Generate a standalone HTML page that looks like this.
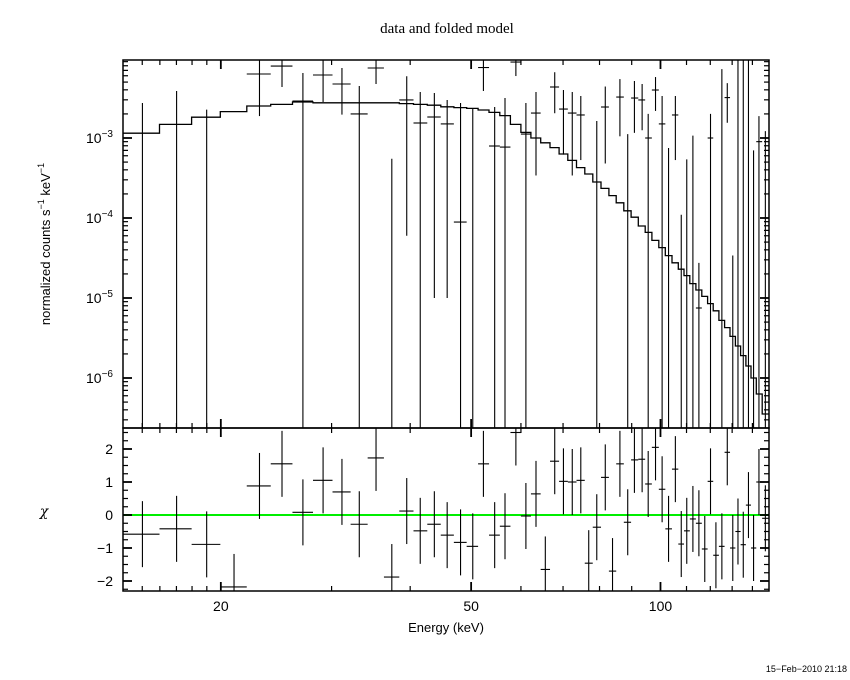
<!DOCTYPE html>
<html><head><meta charset="utf-8">
<style>
html,body{margin:0;padding:0;background:#fff;}
svg{display:block;}
</style></head>
<body>
<svg id="chart" width="850" height="680" xmlns="http://www.w3.org/2000/svg">
<defs>
<clipPath id="clipTop"><rect x="123" y="60" width="646" height="368"/></clipPath>
<clipPath id="clipBot"><rect x="123" y="428" width="646" height="163"/></clipPath>
</defs>
<rect x="0" y="0" width="850" height="680" fill="#fff"/>
<text x="447" y="33" text-anchor="middle" font-family="Liberation Serif, serif" font-size="15">data and folded model</text>
<text transform="translate(50,244) rotate(-90)" text-anchor="middle" font-family="Liberation Sans, sans-serif" font-size="13">normalized counts s<tspan dy="-6" font-size="9">−1</tspan><tspan dy="6"> keV</tspan><tspan dy="-6" font-size="9">−1</tspan></text>
<text x="44" y="516" text-anchor="middle" font-family="DejaVu Serif, serif" font-size="14" font-style="italic">χ</text>
<text x="446" y="632" text-anchor="middle" font-family="Liberation Sans, sans-serif" font-size="13">Energy (keV)</text>
<text x="847" y="672" text-anchor="end" font-family="Liberation Sans, sans-serif" font-size="9">15−Feb−2010 21:18</text>
<g id="gTop" clip-path="url(#clipTop)"></g>
<g id="gBot" clip-path="url(#clipBot)"></g>
<g id="gAxes"></g>
</svg>
<script>
// bin centre energies (keV)
const energies = [15.01,17.01,18.99,20.99,23.04,25.02,27.01,29.08,31.16,33.2,35.3,37.4,39.5,41.5,43.7,45.8,48.1,50.3,52.3,54.5,56.6,58.9,61.1,63.4,65.6,67.9,70.1,72.4,74.7,76.9,79.2,81.7,83.9,86.2,88.7,90.9,93.5,95.6,98.2,100.6,103.0,105.6,107.9,110.1,112.6,115.1,117.6,120.1,122.5,125.2,127.7,130.3,132.8,135.4,138.0,140.6,143.4,146.8];
// folded model, log10 (counts/s/keV)
const modelLog = [-2.94,-2.83,-2.74,-2.67,-2.60,-2.58,-2.55,-2.56,-2.56,-2.56,-2.56,-2.56,-2.57,-2.58,-2.59,-2.61,-2.62,-2.63,-2.65,-2.68,-2.72,-2.83,-2.93,-3.00,-3.06,-3.12,-3.20,-3.28,-3.37,-3.45,-3.55,-3.63,-3.72,-3.81,-3.91,-3.99,-4.10,-4.18,-4.28,-4.37,-4.47,-4.56,-4.64,-4.72,-4.82,-4.90,-4.98,-5.07,-5.16,-5.28,-5.37,-5.48,-5.60,-5.72,-5.85,-6.00,-6.20,-6.45];
// data rate (1e-3 counts/s/keV)
const rate = [-1.05,-0.25,-1.74,-4.4,6.31,7.94,2.90,6.13,4.73,2.0,7.5,-1.95,2.99,1.54,1.83,1.50,0.089,-0.1,7.6,0.794,0.77,8.9,1.12,2.05,-1.6,4.34,2.30,2.05,1.94,-1.4,-0.51,2.44,-1.85,3.25,-0.16,3.16,2.99,1.0,3.98,1.50,-0.49,1.94,-0.59,-0.47,-0.13,0.0075,-0.5,1.0,-0.7,-4.75,3.2,-0.001,-1,-1,-0.5,-0.5,0.9,-0.13];
// data 1-sigma error (1e-3 counts/s/keV)
const rateErr = [3.79,4.12,4.0,3.0,4.43,3.6,3.59,3.31,2.77,2.47,2.77,2.5,2.93,2.22,1.82,1.49,2.65,2.4,3.73,1.65,2.39,2.95,1.62,1.71,1.5,2.3,1.68,1.71,1.41,1.2,2.14,1.96,1.2,2.2,1.28,2.0,1.74,1.0,1.8,1.85,1.24,1.41,0.7,1.01,1.2,0.02,0.5,1.0,0.6,12,1.65,0.035,12,12,11,1.2,0.98,1.35];
// residuals (chi)
const resid = [-0.58,-0.42,-0.89,-2.18,0.88,1.55,0.08,1.05,0.70,-0.28,1.73,-1.88,0.12,-0.48,-0.28,-0.61,-0.83,-0.95,1.55,-0.61,-0.34,2.5,-0.03,0.64,-1.65,1.63,1.02,1.0,1.05,-1.46,-0.37,1.14,-1.7,1.55,-0.22,1.67,1.69,0.94,2.05,0.78,-0.42,1.39,-0.88,-0.48,-0.12,-0.25,-1.03,1.02,-1.22,-0.95,1.9,-1.0,-0.5,-0.9,0.3,-1.0,1.0,-0.1];
const yTickLabels = ["10","10","10","10"];
const yTickExps = [-3,-4,-5,-6];
const xTickLabels = ["20","50","100"];
const xTickValues = [20,50,100];
const resTickValues = [2,1,0,-1,-2];

const NS="http://www.w3.org/2000/svg";
const X0=123,X1=769,LOGE0=1.1455,PXDEC=629;
const TOP0=60,TOP1=428,BOT0=428,BOT1=591;
function xOf(e){return X0+(Math.log10(e)-LOGE0)*PXDEC;}
function yTop(v){return 138-(Math.log10(v)+3)*80;}
function yTopLog(l){return 138-(l+3)*80;}
function yRes(r){return 515-r*33;}
function mk(tag,attrs,parent){const el=document.createElementNS(NS,tag);for(const k in attrs)el.setAttribute(k,attrs[k]);parent.appendChild(el);return el;}
const gTop=document.getElementById('gTop'),gBot=document.getElementById('gBot'),gAx=document.getElementById('gAxes');
const Emin=Math.pow(10,LOGE0),Emax=Math.pow(10,LOGE0+(X1-X0)/PXDEC);
function edges(i){const lo=i===0?Emin:Math.sqrt(energies[i-1]*energies[i]);const hi=i===energies.length-1?Emax:Math.sqrt(energies[i]*energies[i+1]);return [lo,hi];}

let d='';
for(let i=0;i<energies.length;i++){const [lo,hi]=edges(i);const y=yTopLog(modelLog[i]);d+=(i===0?'M':'L')+xOf(lo).toFixed(1)+' '+y.toFixed(1)+' L'+xOf(hi).toFixed(1)+' '+y.toFixed(1)+' ';}
const mline=mk('path',{d:d,fill:'none',stroke:'#000','stroke-width':1.3},gTop);



for(let i=0;i<energies.length;i++){
  const [lo,hi]=edges(i);const xc=xOf(energies[i]);
  const v=rate[i]*1e-3,s=rateErr[i]*1e-3;
  const up=v+s,dn=v-s;
  const yU=up>0?yTop(up):TOP1+5;const yD=dn>0?yTop(dn):TOP1+5;
  const g=mk('g',{},gTop);
  
  
  mk('line',{x1:xc,x2:xc,y1:yU,y2:yD,stroke:'#000','stroke-width':1.1},g);
  if(v>0){const y=yTop(v);mk('line',{x1:xOf(lo),x2:xOf(hi),y1:y,y2:y,stroke:'#000','stroke-width':1.1},g);}
}
const zl=mk('line',{x1:X0,x2:X1,y1:yRes(0),y2:yRes(0),stroke:'#00ee00','stroke-width':2},gBot);


for(let i=0;i<energies.length;i++){
  const [lo,hi]=edges(i);const xc=xOf(energies[i]);const r=resid[i];
  const g=mk('g',{},gBot);
  
  
  mk('line',{x1:xc,x2:xc,y1:yRes(r+1),y2:yRes(r-1),stroke:'#000','stroke-width':1.1},g);
  mk('line',{x1:xOf(lo),x2:xOf(hi),y1:yRes(r),y2:yRes(r),stroke:'#000','stroke-width':1.1},g);
}

const f1=mk('rect',{x:X0,y:TOP0,width:X1-X0,height:TOP1-TOP0,fill:'none',stroke:'#000','stroke-width':1.5},gAx);


const f2=mk('rect',{x:X0,y:BOT0,width:X1-X0,height:BOT1-BOT0,fill:'none',stroke:'#000','stroke-width':1.5},gAx);


function tk(x1,y1,x2,y2,w){mk('line',{x1:x1,y1:y1,x2:x2,y2:y2,stroke:'#000','stroke-width':w||1.2},gAx);}
const xt=[];for(let e=15;e<20;e++)xt.push(e);for(let e=20;e<100;e+=10)xt.push(e);for(let e=100;e<=140;e+=10)xt.push(e);
xt.forEach(e=>{const x=xOf(e);const maj=xTickValues.indexOf(e)>=0;const L=maj?9:5;
  [[TOP0,1],[TOP1,-1],[BOT0,1],[BOT1,-1]].forEach(([y,s])=>tk(x,y,x,y+s*L,maj?1.8:1.2));});
xTickValues.forEach((e,i)=>{const t=mk('text',{x:xOf(e),y:611,'text-anchor':'middle','font-family':'Liberation Sans, sans-serif','font-size':14},gAx);t.textContent=xTickLabels[i];
  
  });
for(let p=-7;p<=-2;p++){for(let m=1;m<10;m++){const v=m*Math.pow(10,p);const y=yTop(v);if(y<TOP0||y>TOP1)continue;const L=m===1?9:5;tk(X0,y,X0+L,y,m===1?1.8:1.2);tk(X1,y,X1-L,y,m===1?1.8:1.2);}}
yTickExps.forEach((p,i)=>{const y=yTopLog(p);const t=mk('text',{x:113,y:y+5,'text-anchor':'end','font-family':'Liberation Sans, sans-serif','font-size':14},gAx);
  
  
  t.textContent=yTickLabels[i];const s=mk('tspan',{dy:-6,'font-size':10},t);s.textContent='−'+(-p);});
for(let r=-2.25;r<=2.6;r+=0.25){const y=yRes(r);const maj=Math.abs(r-Math.round(r))<1e-6;const L=maj?9:5;tk(X0,y,X0+L,y,maj?1.8:1.2);tk(X1,y,X1-L,y,maj?1.8:1.2);}
resTickValues.forEach(r=>{const t=mk('text',{x:113,y:yRes(r)+5,'text-anchor':'end','font-family':'Liberation Sans, sans-serif','font-size':14},gAx);t.textContent=r<0?'−'+(-r):String(r);
  
  });
</script>
</body></html>
